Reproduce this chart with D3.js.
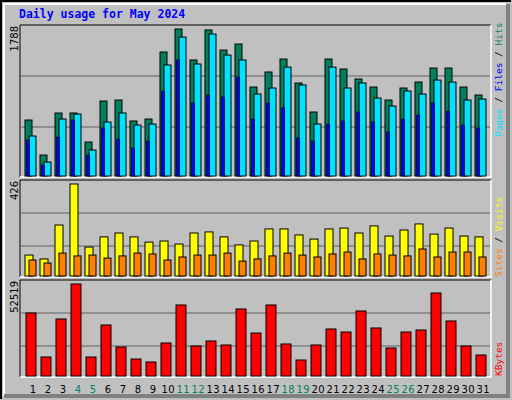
<!DOCTYPE html>
<html><head><meta charset="utf-8">
<script src="https://cdn.jsdelivr.net/npm/d3@7"></script>
<style>body{margin:0;background:#fff}</style>
</head><body>
<div id="graf"></div>
<script>
////DATOS
days   = d3.range(1, 32)
weekend = [4, 5, 11, 12, 18, 19, 25, 26]
hits   = [681,255,766,766,413,912,924,669,693,1508,1788,1411,1776,1532,1605,1082,1265,1423,1131,778,1423,1301,1180,1082,924,1070,1143,1313,1313,1082,985]
files  = [486,170,693,754,316,657,766,620,632,1350,1690,1362,1727,1471,1411,997,1070,1325,1107,632,1325,1070,1131,948,851,1034,997,1167,1143,924,936]
pages  = [438,134,474,681,255,584,450,340,426,1034,1411,888,985,961,1204,693,888,827,462,426,632,669,778,657,535,693,742,888,790,620,584]
visits = [97,79,236,426,134,181,199,181,157,162,148,199,204,181,144,162,218,218,190,171,218,222,199,232,185,213,241,194,222,185,181]
sites  = [74,60,106,93,97,83,93,106,102,74,88,97,97,106,69,79,93,106,97,88,102,111,79,102,97,93,125,88,111,111,88]
kbytes = [35970,10849,32547,52519,10849,29121,16559,9707,7994,18843,40541,17130,19985,17701,38257,24553,40541,18272,9136,17701,26837,25124,37115,27408,15988,25124,26266,47393,31405,17130,11991]

svg = d3.select('#graf').append('svg').attr('width', 512).attr('height', 400)
      .style('font-family', 'DejaVu Sans Mono, monospace')

////MARCO
svg.append('rect').attr('width', 512).attr('height', 400).attr('fill', '#c0c0c0')
svg.append('path').attr('d', 'M1,399V1H511').attr('stroke', '#000').attr('fill', 'none').attr('stroke-width', 2)
svg.append('path').attr('d', 'M4,396V4H506').attr('stroke', '#fff').attr('fill', 'none').attr('stroke-width', 2)
svg.append('path').attr('d', 'M4,396H508V4').attr('stroke', '#808080').attr('fill', 'none').attr('stroke-width', 4)

svg.append('text').attr('x', 19).attr('y', 18).text('Daily usage for May 2024')
   .attr('fill', '#0000ff').attr('font-weight', 'bold').attr('font-size', 11.5)

x = d3.scaleLinear().domain([1, 31]).range([25, 475])

panels = [
  { top: 25, base: 176, max: 1788, ymax: 29, grids: [76, 127], label: '1788' },
  { top: 180, base: 276, max: 426, ymax: 184, grids: [213, 246], label: '426' },
  { top: 280, base: 376, max: 52519, ymax: 284, grids: [313, 346], label: '52519' }
]

panels.forEach(p => {
  p.y = d3.scaleLinear().domain([0, p.max]).range([p.base, p.ymax])
  svg.append('rect').attr('x', 20).attr('y', p.top).attr('width', 471).attr('height', p.base - p.top + 1)
     .attr('fill', '#c0c0c0')
  svg.append('path').attr('d', `M20,${p.base + 1}V${p.top}H491`).attr('stroke', '#000').attr('fill', 'none')
  svg.append('path').attr('d', `M20,${p.base + 1}H491V${p.top}`).attr('stroke', '#fff').attr('fill', 'none').attr('stroke-width', 1.5)
  p.grids.forEach(gy => svg.append('line').attr('x1', 21).attr('x2', 490).attr('y1', gy).attr('y2', gy)
     .attr('stroke', '#808080').attr('stroke-width', 1.5))
  svg.append('text').attr('transform', `translate(18,${p.top + 1}) rotate(-90)`)
     .attr('text-anchor', 'end').attr('font-size', 10).attr('font-family', 'DejaVu Sans, sans-serif').text(p.label)
})

function bars(data, p, dx, w, color, sw) {
  svg.append('g').selectAll('rect').data(data).join('rect')
     .attr('x', (d, i) => x(days[i]) + dx).attr('width', w)
     .attr('y', d => p.y(d)).attr('height', d => p.base - p.y(d))
     .attr('fill', color).attr('stroke', '#000').attr('stroke-width', sw || 1)
}

bars(hits, panels[0], 0, 7, '#00805c')
bars(files, panels[0], 4, 7, '#00e0ff')
bars(pages, panels[0], 1.5, 3, '#0000ff', 0.6)
bars(visits, panels[1], 0, 8, '#ffff00')
bars(sites, panels[1], 4, 7, '#ff8000')
bars(kbytes, panels[2], 1, 10, '#ff0000')

////ETIQUETAS DE DIAS
svg.append('g').selectAll('text').data(days).join('text')
   .attr('x', d => x(d) + 8).attr('y', 393).attr('text-anchor', 'middle').attr('font-size', 10)
   .attr('font-family', 'DejaVu Sans, sans-serif').attr('textLength', d => d > 9 ? 13 : null)
   .attr('fill', d => weekend.includes(d) ? '#00805c' : '#000').text(d => d)

////LEYENDAS A LA DERECHA
function legend(parts, yEnd) {
  t = svg.append('text').attr('transform', `translate(502,${yEnd}) rotate(-90)`)
        .attr('font-size', 9.5).attr('font-family', 'DejaVu Sans Mono, monospace')
  parts.forEach(([s, c]) => t.append('tspan').attr('fill', c).text(s))
}
legend([['Pages', '#00e0ff'], [' / ', '#000'], ['Files', '#0000ff'], [' / ', '#000'], ['Hits', '#00805c']], 137)
legend([['Sites', '#ff8000'], [' / ', '#000'], ['Visits', '#ffff00']], 277)
legend([['KBytes', '#ff0000']], 376)
</script>
</body></html>
